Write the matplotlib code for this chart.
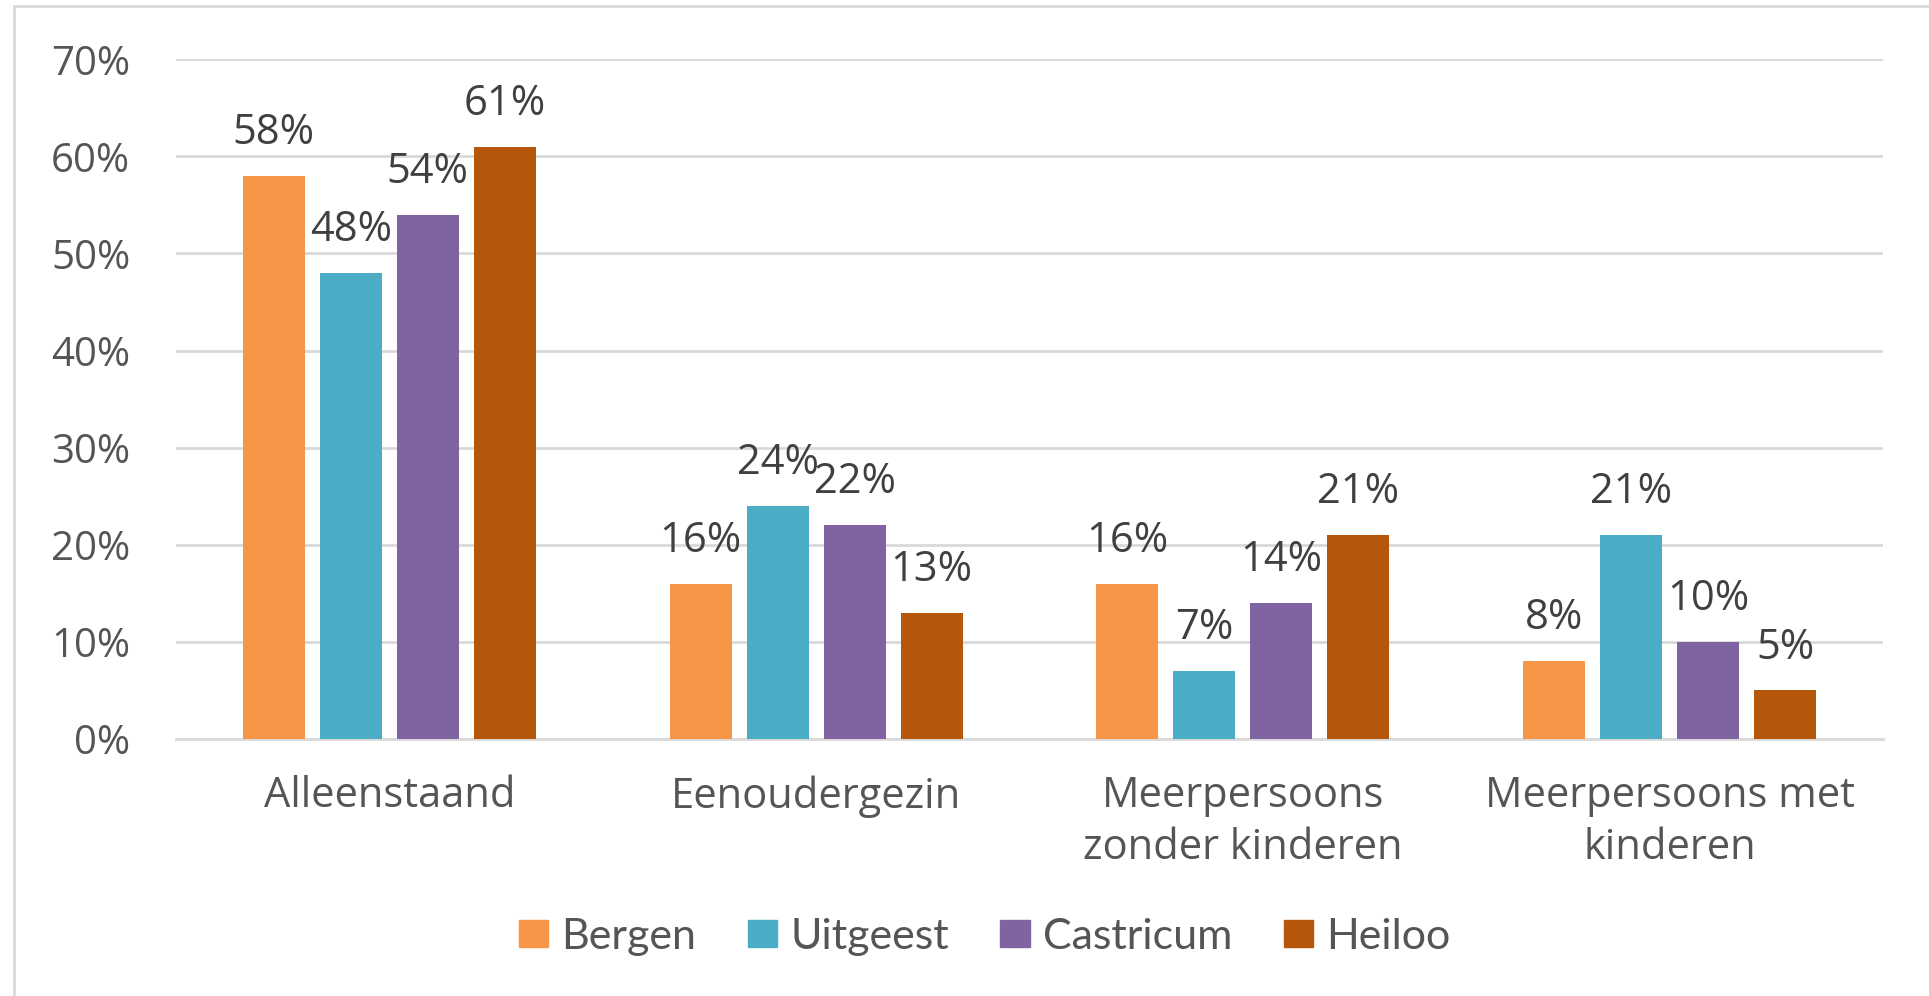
import matplotlib
matplotlib.use("Agg")
import matplotlib.pyplot as plt
import numpy as np
from matplotlib.patches import Rectangle
from matplotlib.lines import Line2D

categories = ["Alleenstaand", "Eenoudergezin", "Meerpersoons\nzonder kinderen", "Meerpersoons met\nkinderen"]
series_names = ["Bergen", "Uitgeest", "Castricum", "Heiloo"]
bergen = [58, 16, 16, 8]
uitgeest = [48, 24, 7, 21]
castricum = [54, 22, 14, 10]
heiloo = [61, 13, 21, 5]
yticks = [0, 10, 20, 30, 40, 50, 60, 70]
colors = ["#F79646", "#4BACC6", "#8064A2", "#B5570A"]

W, H = 1929, 996
fig = plt.figure(figsize=(W / 100, H / 100), dpi=100)
ax = fig.add_axes([176 / W, 1 - 739 / H, (1883 - 176) / W, (739 - 59.3) / H])

font_main = "Open Sans"
tick_color = "#555555"
label_color = "#404040"

x = np.arange(len(categories))
pitch = 0.1804
width = 0.145
all_series = [bergen, uitgeest, castricum, heiloo]
for i, (vals, name, c) in enumerate(zip(all_series, series_names, colors)):
    pos = x + (i - 1.5) * pitch
    ax.bar(pos, vals, width=width, color=c, label=name, zorder=3)
    for xp, v in zip(pos, vals):
        ax.annotate(f"{v}%", xy=(xp, v), xytext=(0, 23), textcoords="offset points",
                    ha="center", va="baseline", fontsize=30, family=font_main,
                    color=label_color, zorder=4)

ax.set_xlim(-0.5, len(categories) - 0.5)
ax.set_ylim(0, 70)
ax.set_yticks(yticks)
ax.set_yticklabels([f"{t}%" for t in yticks], fontsize=29, family=font_main, color=tick_color)
ax.set_xticks(x)
ax.set_xticklabels(categories, fontsize=30, family=font_main, color=tick_color, linespacing=1.3)
ax.tick_params(axis="both", length=0)
ax.tick_params(axis="y", pad=33)
ax.tick_params(axis="x", pad=26)
ax.grid(axis="y", color="#D9D9D9", linewidth=2, zorder=0)
for s in ["top", "right", "left"]:
    ax.spines[s].set_visible(False)
ax.spines["bottom"].set_color("#D9D9D9")
ax.spines["bottom"].set_linewidth(2)
ax.spines["bottom"].set_zorder(1)

handles = [Rectangle((0, 0), 1, 1, color=c) for c in colors]
leg = fig.legend(handles, series_names, loc="center", bbox_to_anchor=(984.5 / W, 1 - 937 / H),
                 ncol=4, frameon=False, prop={"family": "Lato", "size": 31},
                 handlelength=0.68, handleheight=0.58, handletextpad=0.3, columnspacing=1.2,
                 borderaxespad=0, borderpad=0)
for t in leg.get_texts():
    t.set_color(tick_color)

# figure border (left & top visible)
fig.add_artist(Line2D([14 / W, 14 / W], [0, 1 - 6 / H], color="#D9D9D9", linewidth=2, transform=fig.transFigure))
fig.add_artist(Line2D([14 / W, 1], [1 - 6 / H, 1 - 6 / H], color="#D9D9D9", linewidth=2, transform=fig.transFigure))

fig.savefig("out.png", dpi=100)
